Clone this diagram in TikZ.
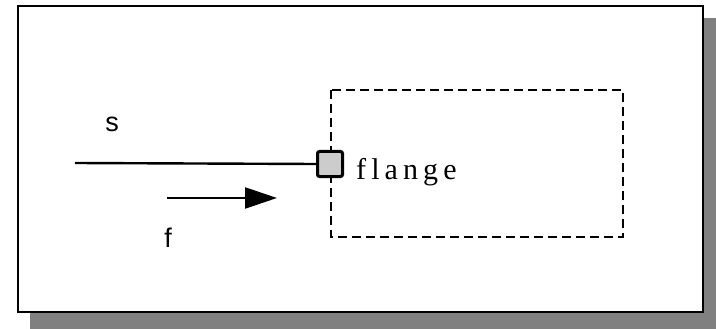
\documentclass[tikz,border=0pt]{standalone}
\usepackage{fontspec}
\setmainfont{Liberation Serif}
\newfontfamily\sansf{Liberation Sans}
\newfontfamily\flangef[LetterSpace=17]{Liberation Serif}
\usetikzlibrary{arrows.meta}
\definecolor{shadowgray}{HTML}{808080}
\definecolor{portgray}{HTML}{CCCCCC}
\tikzset{
  frame/.style={draw=black, line width=2.6pt, fill=white},
  dashbox/.style={draw=black, line width=2.4pt, dash pattern=on 9pt off 5pt},
  port/.style={draw=black, line width=3pt, fill=portgray, rounded corners=2pt, minimum size=25pt, inner sep=0pt},
  lbl/.style={font=\sansf\fontsize{27}{29}\selectfont, inner sep=0pt},
  conn/.style={line width=2.4pt},
}
\begin{document}
\begin{tikzpicture}[x=1pt,y=-1pt]
\useasboundingbox (0,0) rectangle (716,329);
\fill[shadowgray] (30,18) rectangle (716,329);
\draw[frame] (18,6) rectangle (703,312);
\draw[dashbox] (331,90) rectangle (623,237);
\coordinate (sstart) at (75,163);
\node[port] (p) at (330,164) {};
\draw[conn] (sstart) -- (p.west);
\node[lbl] (s) at (112,124) {s};
\coordinate (fa) at (167,198);
\coordinate (fb) at (277,198);
\draw[conn, -{Triangle[length=32pt,width=21pt]}] (fa) -- (fb);
\node[lbl] (f) at (168,238) {f};
\node[anchor=base west, inner sep=0pt, font=\flangef\fontsize{30}{32}\selectfont] (fl) at (356,179) {flange};
\end{tikzpicture}
\end{document}
